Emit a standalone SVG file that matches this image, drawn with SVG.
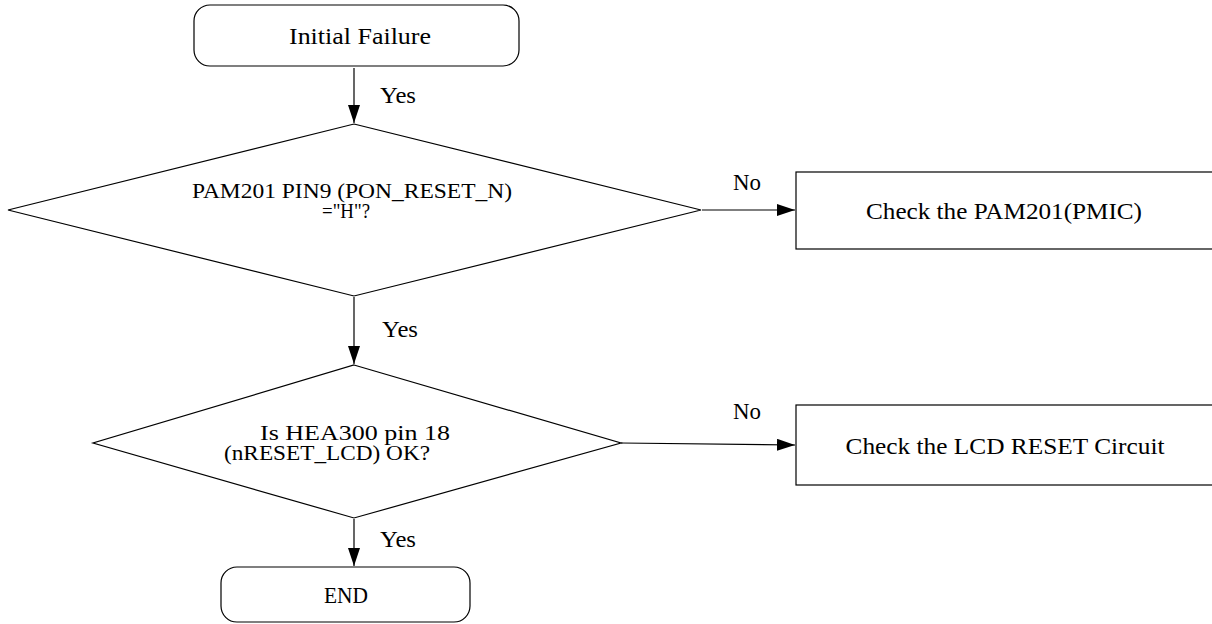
<svg xmlns="http://www.w3.org/2000/svg" width="1212" height="624" viewBox="0 0 1212 624">
<defs>
<marker id="ah" viewBox="0 0 18 12" refX="18" refY="6" markerWidth="18" markerHeight="12" markerUnits="userSpaceOnUse" orient="auto">
<path d="M0,0 L18,6 L0,12 Z" fill="#000"/>
</marker>
</defs>
<style>
.shape{fill:#fff;stroke:#000;stroke-width:1.2}
.t{font-family:"Liberation Serif","DejaVu Serif",serif;font-size:23px;fill:#000;text-anchor:middle}
.t2{font-family:"Liberation Serif","DejaVu Serif",serif;font-size:21px;fill:#000;text-anchor:middle}
.lbl{font-family:"Liberation Serif","DejaVu Serif",serif;font-size:23px;fill:#000}
.c{stroke:#000;stroke-width:1.2;fill:none;marker-end:url(#ah)}
</style>
<rect width="1212" height="624" fill="#fff"/>
<g id="connectors">
<line class="c" x1="354" y1="68" x2="354" y2="123"/>
<line class="c" x1="702" y1="210" x2="795" y2="210"/>
<line class="c" x1="354" y1="297" x2="354" y2="364"/>
<line class="c" x1="621" y1="443" x2="795" y2="445"/>
<line class="c" x1="354" y1="519" x2="354" y2="566"/>
<text class="lbl" x="380" y="103" textLength="36" lengthAdjust="spacingAndGlyphs">Yes</text>
<text class="lbl" x="733" y="190" textLength="28" lengthAdjust="spacingAndGlyphs">No</text>
<text class="lbl" x="382" y="337" textLength="36" lengthAdjust="spacingAndGlyphs">Yes</text>
<text class="lbl" x="733" y="419" textLength="28" lengthAdjust="spacingAndGlyphs">No</text>
<text class="lbl" x="380" y="547" textLength="36" lengthAdjust="spacingAndGlyphs">Yes</text>
</g>
<g id="start">
<rect class="shape" x="194" y="5" width="325" height="61" rx="16"/>
<text class="t" x="360" y="44" textLength="142" lengthAdjust="spacingAndGlyphs">Initial Failure</text>
</g>
<g id="decision1">
<polygon class="shape" points="354,124 701,210 354,296 8,210"/>
<text class="t2" x="352" y="198" textLength="320" lengthAdjust="spacingAndGlyphs">PAM201 PIN9 (PON_RESET_N)</text>
<text class="t2" x="346" y="218" textLength="48" lengthAdjust="spacingAndGlyphs">="H"?</text>
</g>
<g id="check1">
<rect class="shape" x="796" y="172" width="420" height="77"/>
<text class="t" x="1004" y="219" textLength="276" lengthAdjust="spacingAndGlyphs">Check the PAM201(PMIC)</text>
</g>
<g id="decision2">
<polygon class="shape" points="354,365 621,443 354,518 93,443"/>
<text class="t2" x="355" y="440" textLength="190" lengthAdjust="spacingAndGlyphs">Is HEA300 pin 18</text>
<text class="t2" x="327" y="460" textLength="206" lengthAdjust="spacingAndGlyphs">(nRESET_LCD) OK?</text>
</g>
<g id="check2">
<rect class="shape" x="796" y="405" width="420" height="80"/>
<text class="t" x="1005" y="454" textLength="319" lengthAdjust="spacingAndGlyphs">Check the LCD RESET Circuit</text>
</g>
<g id="end">
<rect class="shape" x="221" y="567" width="249" height="55" rx="16"/>
<text class="t" x="346" y="603" textLength="44" lengthAdjust="spacingAndGlyphs">END</text>
</g>
</svg>
